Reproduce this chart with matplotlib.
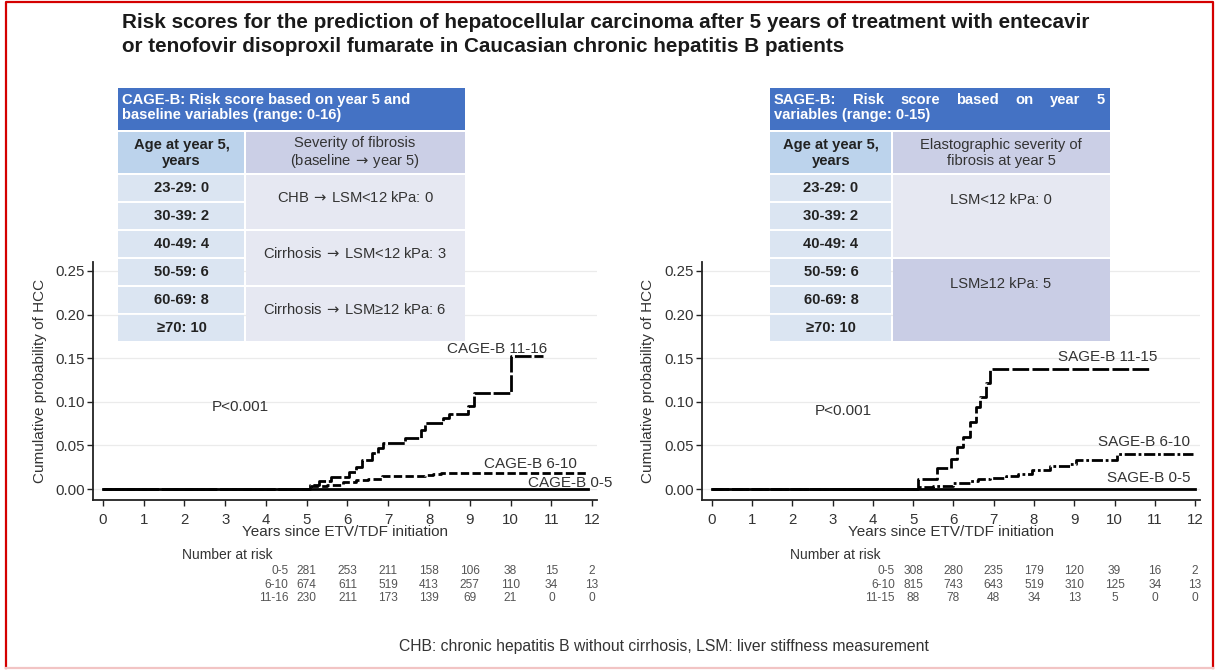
import matplotlib
matplotlib.use("Agg")
import matplotlib.pyplot as plt
import matplotlib.transforms as mtransforms
from matplotlib.patches import Rectangle
from matplotlib.lines import Line2D

plt.rcParams['font.family'] = ['Liberation Sans', 'DejaVu Sans']

W, H = 1217, 672

# ---- data ----
years = list(range(0, 13))
yticks = [0.00, 0.05, 0.10, 0.15, 0.20, 0.25]

# CAGE-B (left)
cage_hi_t = [0, 5.08, 5.3, 5.6, 6.05, 6.2, 6.35, 6.6, 6.75, 6.88, 7.4, 7.8, 7.9, 8.35, 8.5, 8.95, 9.1, 10.0, 10.8]
cage_hi_p = [0, 0.005, 0.009, 0.014, 0.020, 0.025, 0.033, 0.041, 0.047, 0.053, 0.058, 0.068, 0.076, 0.081, 0.086, 0.095, 0.110, 0.153, 0.153]
cage_mid_t = [0, 5.1, 5.5, 5.9, 6.2, 6.5, 6.85, 7.9, 8.1, 8.3, 11.9]
cage_mid_p = [0, 0.003, 0.005, 0.008, 0.010, 0.012, 0.0145, 0.016, 0.017, 0.0187, 0.0187]
cage_lo_t = [0, 11.9]
cage_lo_p = [0, 0]

# SAGE-B (right)
sage_hi_t = [0, 5.12, 5.6, 5.95, 6.1, 6.25, 6.4, 6.55, 6.65, 6.8, 6.92, 10.85]
sage_hi_p = [0, 0.012, 0.024, 0.034, 0.048, 0.060, 0.077, 0.094, 0.105, 0.121, 0.138, 0.138]
sage_mid_t = [0, 5.1, 5.5, 6.0, 6.4, 6.6, 6.9, 7.3, 7.6, 7.95, 8.4, 8.9, 9.05, 10.05, 11.95]
sage_mid_p = [0, 0.002, 0.004, 0.007, 0.009, 0.011, 0.013, 0.015, 0.017, 0.022, 0.026, 0.029, 0.033, 0.040, 0.040]
sage_lo_t = [0, 12]
sage_lo_p = [0, 0]

# number at risk, at years 5..12
risk_years = [5, 6, 7, 8, 9, 10, 11, 12]
cage_groups = ["0-5", "6-10", "11-16"]
cage_risk = [[281, 253, 211, 158, 106, 38, 15, 2],
             [674, 611, 519, 413, 257, 110, 34, 13],
             [230, 211, 173, 139, 69, 21, 0, 0]]
sage_groups = ["0-5", "6-10", "11-15"]
sage_risk = [[308, 280, 235, 179, 120, 39, 16, 2],
             [815, 743, 643, 519, 310, 125, 34, 13],
             [88, 78, 48, 34, 13, 5, 0, 0]]

# tables
ARROW = r"$\,\rightarrow\,$"
ages = ["23-29: 0", "30-39: 2", "40-49: 4", "50-59: 6", "60-69: 8", "≥70: 10"]
cage_head = ["CAGE-B: Risk score based on year 5 and", "baseline variables (range: 0-16)"]
cage_col2 = f"Severity of fibrosis\n(baseline{ARROW}year 5)"
cage_fib = [f"CHB{ARROW}LSM<12 kPa: 0", f"Cirrhosis{ARROW}LSM<12 kPa: 3", f"Cirrhosis{ARROW}LSM≥12 kPa: 6"]
sage_head = ["SAGE-B: Risk score based on year 5", "variables (range: 0-15)"]
sage_col2 = "Elastographic severity of\nfibrosis at year 5"
sage_fib = ["LSM<12 kPa: 0", "LSM≥12 kPa: 5"]

title = ("Risk scores for the prediction of hepatocellular carcinoma after 5 years of treatment with entecavir\n"
         "or tenofovir disoproxil fumarate in Caucasian chronic hepatitis B patients")
footnote = "CHB: chronic hepatitis B without cirrhosis, LSM: liver stiffness measurement"

fig = plt.figure(figsize=(W / 100, H / 100), dpi=100)
renderer = fig.canvas.get_renderer()
# pixel transform, y pointing down
PX = mtransforms.Affine2D().scale(1 / W, -1 / H).translate(0, 1) + fig.transFigure

# red frame
fig.add_artist(Line2D([6, 6, 1213, 1213], [668, 2, 2, 668], transform=PX, color='#d40000', lw=1.6))
fig.add_artist(Line2D([6, 1213], [668, 668], transform=PX, color='#f2c4c4', lw=1.6))

fig.text(122 / W, 1 - 13 / H, title, ha='left', va='top', fontsize=14.9, fontweight='bold',
         color='#1a1a1a', linespacing=1.32)

TXT = '#333333'
FS = 11


def km_panel(rect_px, curves, labels, groups, risk, ylab_x):
    x0, y0, x1, y1 = rect_px
    ax = fig.add_axes([x0 / W, 1 - y1 / H, (x1 - x0) / W, (y1 - y0) / H])
    ax.set_facecolor('none')
    ax.set_xlim(-0.24, 12.12)
    ax.set_ylim(-0.0126, 0.2603)
    ax.set_xticks(years)
    ax.set_yticks(yticks)
    ax.set_yticklabels([f"{v:.2f}" for v in yticks])
    for s in ['top', 'right']:
        ax.spines[s].set_visible(False)
    for s in ['left', 'bottom']:
        ax.spines[s].set_linewidth(1.3)
        ax.spines[s].set_color('#222222')
    ax.tick_params(axis='both', labelsize=10.8, colors='#222222', labelcolor=TXT, length=4, width=1)
    ax.tick_params(axis='x', pad=5)
    ax.tick_params(axis='y', pad=2)
    ax.yaxis.grid(True, color='#ebebeb', lw=0.9)
    ax.set_axisbelow(True)
    ax.set_ylabel("Cumulative probability of HCC", fontsize=FS, color=TXT)
    ax.yaxis.set_label_coords(ylab_x, 0.5)
    ax.set_xlabel("Years since ETV/TDF initiation", fontsize=FS, color=TXT, labelpad=-1)

    for (t, p, style, lw) in curves:
        ax.step(t, p, where='post', color='black', lw=lw, linestyle=style, zorder=3)
    for (s, tx, ty) in labels:
        ax.text(tx, ty, s, fontsize=FS, color=TXT, ha='left', va='center', zorder=4, clip_on=False)

    # number at risk
    bt = mtransforms.blended_transform_factory(ax.transData, PX)
    fig.text(1.95, 555, "Number at risk", transform=bt, fontsize=10, color=TXT, ha='left', va='center')
    for i, (g, row) in enumerate(zip(groups, risk)):
        yy = 571 + i * 13.5
        fig.text(4.55, yy, g, transform=bt, fontsize=8.6, color='#555555', ha='right', va='center')
        for yr, n in zip(risk_years, row):
            fig.text(yr, yy, str(n), transform=bt, fontsize=8.6, color='#555555', ha='center', va='center')
    return ax


axL = km_panel((93, 262, 597, 500),
               [(cage_lo_t, cage_lo_p, '-', 2.0),
                (cage_mid_t, cage_mid_p, (0, (3, 1.2)), 2.0),
                (cage_hi_t, cage_hi_p, (0, (6, 1)), 2.0)],
               [("CAGE-B 11-16", 8.44, 0.161),
                ("CAGE-B 6-10", 9.35, 0.029),
                ("CAGE-B 0-5", 10.43, 0.007),
                ("P<0.001", 2.67, 0.094)],
               cage_groups, cage_risk, -0.091)

axR = km_panel((702, 262, 1200, 500),
               [(sage_lo_t, sage_lo_p, '-', 2.0),
                (sage_mid_t, sage_mid_p, (0, (4, 1, 1, 1)), 2.0),
                (sage_hi_t, sage_hi_p, (0, (6, 1.2)), 2.0)],
               [("SAGE-B 11-15", 8.6, 0.151),
                ("SAGE-B 6-10", 9.6, 0.054),
                ("SAGE-B 0-5", 9.8, 0.0125),
                ("P<0.001", 2.56, 0.089)],
               sage_groups, sage_risk, -0.094)

# ---- tables over the plots ----
BLUE = '#4472c4'
C_AGE_HEAD = '#bcd3ec'
C_AGE = '#dbe5f2'
C_FIB_HEAD = '#cbcfe6'
C_FIB = '#e6e8f2'
C_FIB_DARK = '#c9cde5'
TFS = 10.6


def cell(x, y, w, h, color):
    fig.add_artist(Rectangle((x, y), w, h, transform=PX, facecolor=color, edgecolor='none', zorder=5))


def ptext(x, y, s, **kw):
    return fig.text(x, y, s, transform=PX, zorder=6, **kw)


def header_lines(x0, x1, y, lines, justify):
    kw = dict(color='white', fontsize=TFS, fontweight='bold', ha='left', va='center')
    for k, line in enumerate(lines):
        yy = y + k * 15
        if justify and k == 0:
            words = line.split()
            arts = [ptext(0, yy, w, **kw) for w in words]
            widths = [a.get_window_extent(renderer).width for a in arts]
            gap = (x1 - x0 - sum(widths)) / (len(words) - 1)
            xx = x0
            for a, wd in zip(arts, widths):
                a.set_x(xx)
                xx += wd + gap
        else:
            ptext(x0, yy, line, **kw)


def table(x0, x_split, x1, head, justify, col2, fib_texts, fib_spans, fib_colors):
    top, head_b, row0, row_h = 88, 130, 174, 28
    cell(x0, top, x1 - x0, head_b - top, BLUE)
    header_lines(x0 + 4, x1 - 5, top + 12, head, justify)
    cell(x0, head_b + 2, x_split - x0 - 1, row0 - head_b - 3, C_AGE_HEAD)
    cell(x_split + 1, head_b + 2, x1 - x_split - 1, row0 - head_b - 3, C_FIB_HEAD)
    ptext((x0 + x_split) / 2, (head_b + row0) / 2 + 1, "Age at year 5,\nyears", color='#222222', fontsize=TFS,
          fontweight='bold', ha='center', va='center', linespacing=1.1)
    ptext((x_split + x1) / 2, (head_b + row0) / 2 + 1, col2, color=TXT, fontsize=TFS,
          ha='center', va='center', linespacing=1.1)
    for i, a in enumerate(ages):
        y = row0 + i * row_h
        cell(x0, y + 1, x_split - x0 - 1, row_h - 2, C_AGE)
        ptext((x0 + x_split) / 2, y + row_h / 2, a, color='#222222', fontsize=TFS, fontweight='bold',
              ha='center', va='center')
    for s, (r0, r1), c in zip(fib_texts, fib_spans, fib_colors):
        y = row0 + r0 * row_h
        h = (r1 - r0) * row_h
        cell(x_split + 1, y + 1, x1 - x_split - 1, h - 2, c)
        ytxt = y + row_h * 0.85 if r1 - r0 == 2 else y + row_h * 0.92
        ptext((x_split + x1) / 2, ytxt, s, color=TXT, fontsize=TFS, ha='center', va='center')


table(118, 245, 465, cage_head, False, cage_col2, cage_fib, [(0, 2), (2, 4), (4, 6)], [C_FIB, C_FIB, C_FIB])
table(770, 892, 1110, sage_head, True, sage_col2, sage_fib, [(0, 3), (3, 6)], [C_FIB, C_FIB_DARK])

fig.text(664 / W, 1 - 646 / H, footnote, ha='center', va='center', fontsize=11.3, color=TXT)

fig.savefig("out.png", dpi=100)
